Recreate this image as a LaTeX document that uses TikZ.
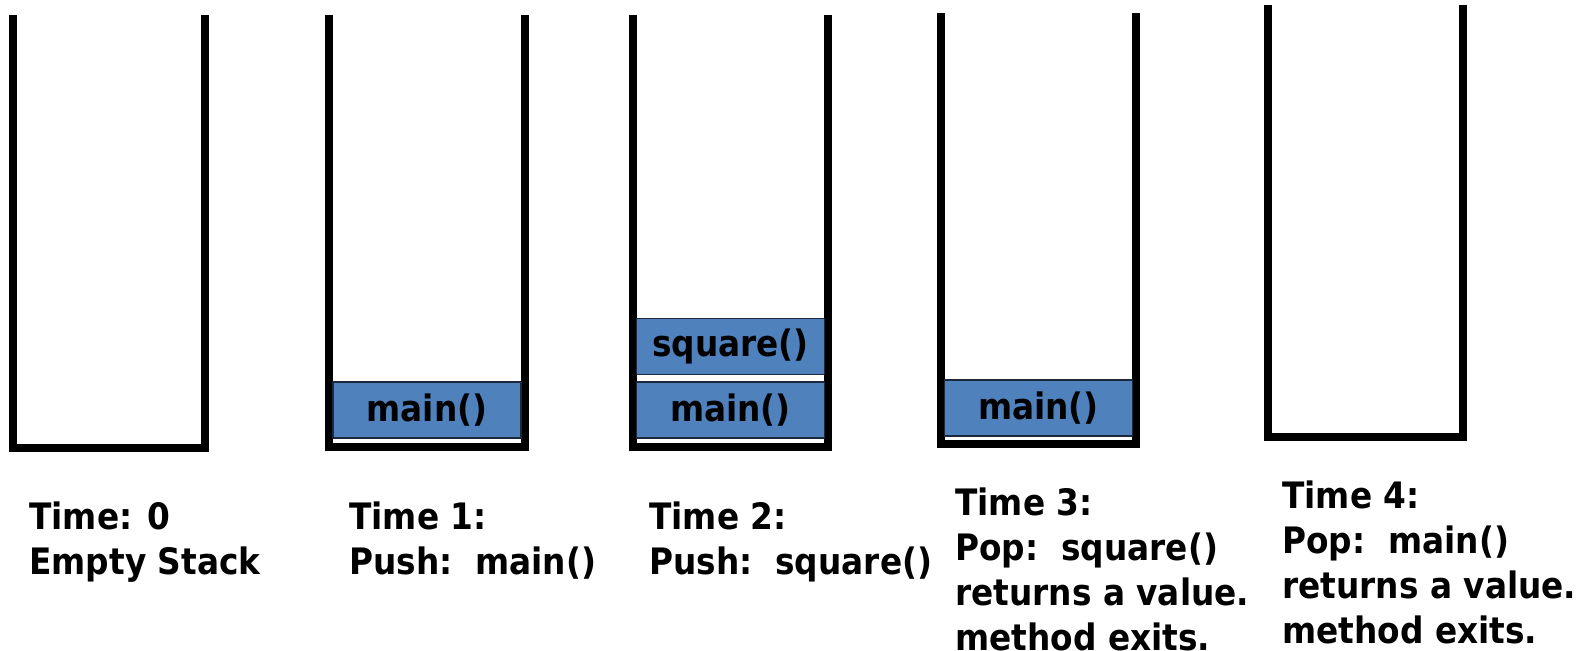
\documentclass[tikz,border=0pt]{standalone}
\usepackage{fontspec}
\setmainfont{DejaVu Sans}[FakeStretch=0.9]
\definecolor{frameblue}{RGB}{79,129,189}
\definecolor{frameline}{RGB}{30,40,60}
\begin{document}
\begin{tikzpicture}[x=0.5pt,y=-0.5pt,
  wall/.style={line width=4pt,line join=miter},
  frame/.style={draw=frameline,line width=0.7pt,fill=frameblue,inner sep=0pt,
    minimum width=94pt,minimum height=28pt,font=\fontsize{18.2}{23}\bfseries},
  lab/.style={anchor=north west,align=left,inner sep=0pt,
    font=\fontsize{18.2}{22.6}\bfseries}]
\useasboundingbox (0,0) rectangle (1585,651);
% the five stacks
\foreach \xl/\xr/\yt/\yb in {13/205/15/448,329/525/15/447,633/828/15/447,941/1136/13/444,1268/1463/5/437} {
  \draw[wall] (\xl,\yt) -- (\xl,\yb) -- (\xr,\yb) -- (\xr,\yt);
}
% frames on the stacks
\node[frame] (main1) at (427,410) {main()};
\node[frame] (main2) at (730.5,410) {main()};
\node[frame] (square2) at (730.5,346.5) {square()};
\node[frame] (main3) at (1038.5,408) {main()};
% captions
\node[lab] (time0) at (29,501) {Time: 0\\Empty Stack};
\node[lab] (time1) at (349,501) {Time 1:\\Push:\ \ main()};
\node[lab] (time2) at (649,501) {Time 2:\\Push:\ \ square()};
\node[lab] (time3) at (955,487) {Time 3:\\Pop:\ \ square()\\returns a value.\\method exits.};
\node[lab] (time4) at (1282,480) {Time 4:\\Pop:\ \ main()\\returns a value.\\method exits.};
\end{tikzpicture}
\end{document}
